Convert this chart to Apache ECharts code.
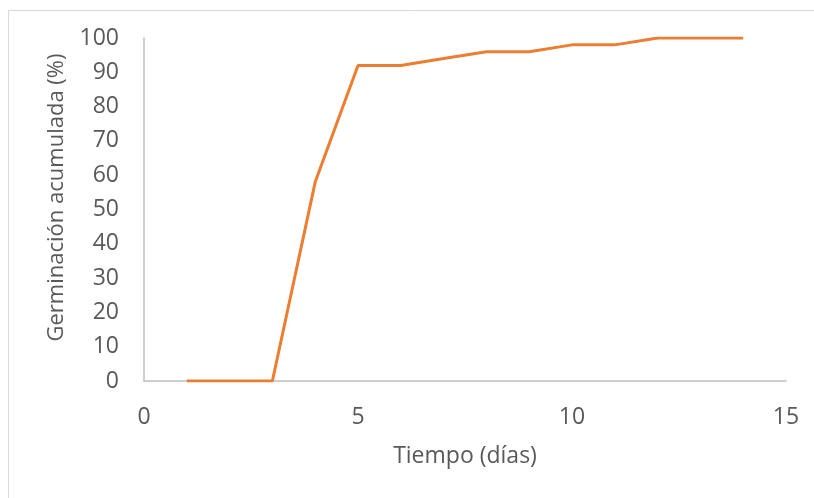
<!DOCTYPE html>
<html>
<head>
<meta charset="utf-8">
<script src="https://cdn.jsdelivr.net/npm/echarts@6/dist/echarts.min.js"></script>
<style>
  html, body { margin: 0; padding: 0; background: #ffffff; }
  #chart { width: 814px; height: 498px; }
</style>
</head>
<body>
<div id="chart"></div>
<script>
// Days since sowing and cumulative germination (%)
const dias = [1, 2, 3, 4, 5, 6, 7, 8, 9, 10, 11, 12, 13, 14];
const germinacion = [0, 0, 0, 58, 92, 92, 94, 96, 96, 98, 98, 100, 100, 100];

const FONT = '"Open Sans", sans-serif';
const TEXT_COLOR = '#595959';
const AXIS_COLOR = '#BFBFBF';

const chart = echarts.init(document.getElementById('chart'), null, { renderer: 'canvas' });

chart.setOption({
  animation: false,
  backgroundColor: '#ffffff',
  graphic: [{
    type: 'rect',
    shape: { x: 8.5, y: 10.5, width: 810, height: 500 },
    style: { fill: 'none', stroke: '#D9D9D9', lineWidth: 1 },
    silent: true
  }],
  grid: { left: 144, right: 28, top: 38, bottom: 117 },
  xAxis: {
    type: 'value',
    min: 0,
    max: 15,
    interval: 5,
    name: 'Tiempo (días)',
    nameLocation: 'middle',
    nameGap: 64,
    nameTextStyle: { color: TEXT_COLOR, fontFamily: FONT, fontSize: 23 },
    axisLine: { show: true, lineStyle: { color: AXIS_COLOR, width: 1.5 } },
    axisTick: { show: false },
    splitLine: { show: false },
    axisLabel: { color: TEXT_COLOR, fontFamily: FONT, fontSize: 23, margin: 25 }
  },
  yAxis: {
    type: 'value',
    min: 0,
    max: 100,
    interval: 10,
    name: 'Germinación acumulada (%)',
    nameLocation: 'middle',
    nameGap: 76,
    nameTextStyle: { color: TEXT_COLOR, fontFamily: FONT, fontSize: 22, padding: [0, 0, 0, 24] },
    axisLine: { show: true, lineStyle: { color: AXIS_COLOR, width: 1.5 } },
    axisTick: { show: false },
    splitLine: { show: false },
    axisLabel: { color: TEXT_COLOR, fontFamily: FONT, fontSize: 23, margin: 25 }
  },
  series: [{
    type: 'line',
    data: dias.map((d, i) => [d, germinacion[i]]),
    showSymbol: false,
    lineStyle: { color: '#ED7D31', width: 3 },
    itemStyle: { color: '#ED7D31' }
  }]
});
</script>
</body>
</html>
